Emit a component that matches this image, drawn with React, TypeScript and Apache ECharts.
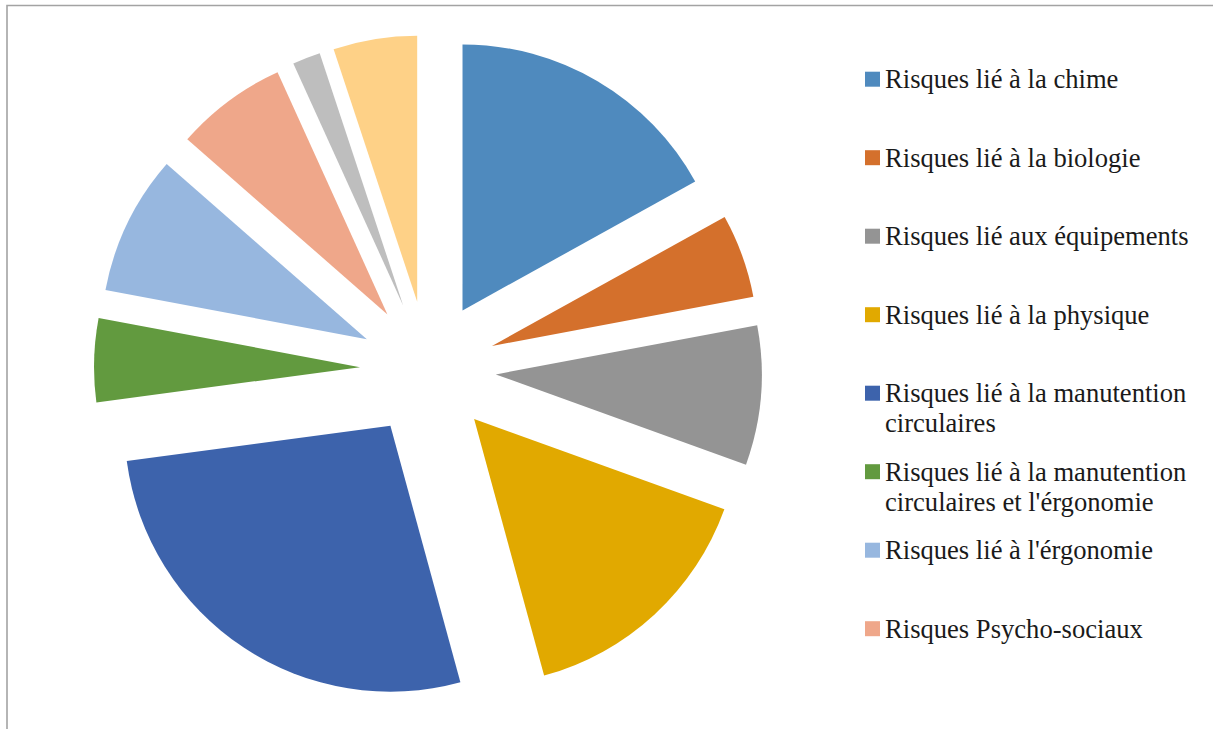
import React, { useEffect, useRef } from "react";
import * as echarts from "echarts";

// Categories (the last two are not listed in the truncated legend of the original)
const categories: string[] = [
  "Risques lié à la chime",
  "Risques lié à la biologie",
  "Risques lié aux équipements",
  "Risques lié à la physique",
  "Risques lié à la manutention circulaires",
  "Risques lié à la manutention circulaires et l'érgonomie",
  "Risques lié à l'érgonomie",
  "Risques Psycho-sociaux",
  "Autres risques",
  "Risques divers",
];

// Counts
const values: number[] = [10, 3, 5, 9, 16, 3, 5, 4, 1, 3];

const colors: string[] = [
  "#4F8ABE",
  "#D4702C",
  "#949494",
  "#E1A900",
  "#3D63AC",
  "#629A3F",
  "#97B7DF",
  "#EFA78A",
  "#BEBEBE",
  "#FED187",
];

// Legend shows only the first eight entries (as in the original)
const legendNames: string[] = categories.slice(0, 8);

const wrapLabel = (name: string): string =>
  name.replace("manutention circulaires", "manutention\ncirculaires");

export default function App() {
  const ref = useRef<HTMLDivElement>(null);

  useEffect(() => {
    if (!ref.current) return;
    const chart = echarts.init(ref.current, undefined, { renderer: "svg" });

    const fontSize = 26.6;
    const lineH = 30;
    const firstCenter = 79.2;
    const step = 78.5;

    const legends = legendNames.map((name, i) => {
      const wrapped = wrapLabel(name);
      const lines = wrapped.split("\n").length;
      const center = firstCenter + i * step;
      const multi = lines > 1;
      // for multi-line entries, blank lines are prepended so that the first
      // line stays level with the marker
      const totalLines = multi ? lines * 2 - 1 : 1;
      const top = center - (totalLines * lineH) / 2;
      return {
        show: true,
        orient: "vertical" as const,
        left: 865,
        top: top,
        padding: 0,
        itemWidth: 15,
        itemHeight: 15,
        itemGap: 0,
        icon: "rect",
        selectedMode: false,
        data: [name],
        formatter: (n: string) => {
          const w = wrapLabel(n);
          const k = w.split("\n").length;
          return k > 1 ? "\n".repeat(k - 1) + w : w;
        },
        textStyle: {
          fontFamily: "'Liberation Serif', 'DejaVu Serif', serif",
          fontSize: fontSize,
          lineHeight: lineH,
          color: "#1a1a1a",
        },
      };
    });

    chart.setOption({
      animation: false,
      color: colors,
      legend: legends,
      graphic: [
        {
          type: "rect",
          silent: true,
          z: 100,
          shape: { x: 7, y: 5.5, width: 1400, height: 900 },
          style: { fill: "none", stroke: "#a3a3a3", lineWidth: 1.6 },
        },
      ],
      series: [
        {
          type: "pie",
          center: [428, 369],
          radius: 266,
          startAngle: 90,
          clockwise: true,
          selectedMode: "multiple",
          selectedOffset: 68,
          avoidLabelOverlap: false,
          label: { show: false },
          labelLine: { show: false },
          itemStyle: { borderWidth: 0 },
          emphasis: { disabled: true },
          data: categories.map((name, i) => ({
            name,
            value: values[i],
            selected: true,
            itemStyle: { color: colors[i] },
          })),
        },
      ],
    });

    return () => chart.dispose();
  }, []);

  return (
    <div
      ref={ref}
      style={{
        position: "absolute",
        left: 0,
        top: 0,
        width: 1213,
        height: 729,
        background: "#ffffff",
      }}
    />
  );
}
